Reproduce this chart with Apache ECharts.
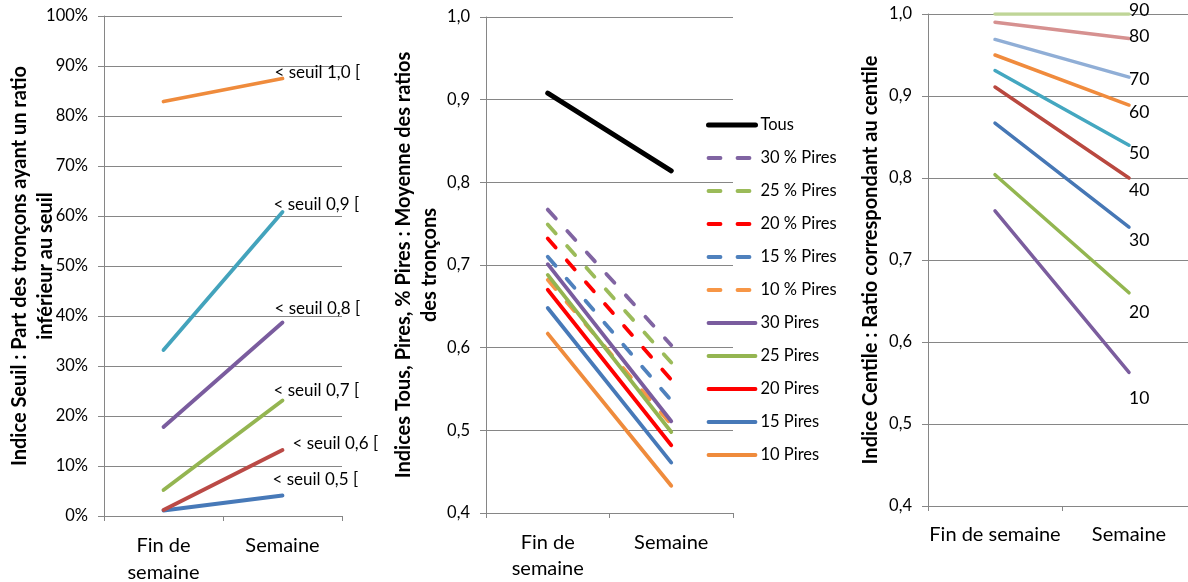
<!DOCTYPE html>
<html><head><meta charset="utf-8">
<script src="https://cdn.jsdelivr.net/npm/echarts@6/dist/echarts.min.js"></script>
<style>html,body{margin:0;padding:0;background:#fff}#c{width:1188px;height:582px}</style>
</head><body><div id="c"></div>
<script>
// ---------- DATA ----------
const catsSeuil = ['Fin de\nsemaine', 'Semaine'];
const catsPires = ['Fin de\nsemaine', 'Semaine'];
const catsCentile = ['Fin de semaine', 'Semaine'];

// Indice Seuil (% of segments below threshold)
const seuilNames = ['< seuil 0,5 [', '< seuil 0,6 [', '< seuil 0,7 [', '< seuil 0,8 [', '< seuil 0,9 [', '< seuil 1,0 ['];
const seuil05 = [1.1, 4.1];
const seuil06 = [1.2, 13.2];
const seuil07 = [5.2, 23.1];
const seuil08 = [17.8, 38.7];
const seuil09 = [33.2, 60.8];
const seuil10 = [82.9, 87.5];
const seuilValues = [seuil05, seuil06, seuil07, seuil08, seuil09, seuil10];

// Indices Tous / % Pires / Pires
const piresNames = ['Tous', '30 % Pires', '25 % Pires', '20 % Pires', '15 % Pires', '10 % Pires',
                    '30 Pires', '25 Pires', '20 Pires', '15 Pires', '10 Pires'];
const tous = [0.908, 0.814];
const pct30 = [0.767, 0.603];
const pct25 = [0.749, 0.582];
const pct20 = [0.732, 0.561];
const pct15 = [0.710, 0.536];
const pct10 = [0.682, 0.507];
const pires30 = [0.701, 0.511];
const pires25 = [0.688, 0.498];
const pires20 = [0.670, 0.482];
const pires15 = [0.648, 0.461];
const pires10 = [0.617, 0.433];
const piresValues = [tous, pct30, pct25, pct20, pct15, pct10, pires30, pires25, pires20, pires15, pires10];

// Indice Centile
const centileNames = ['10', '20', '30', '40', '50', '60', '70', '80', '90'];
const c10 = [0.760, 0.563];
const c20 = [0.804, 0.660];
const c30 = [0.867, 0.740];
const c40 = [0.911, 0.800];
const c50 = [0.931, 0.840];
const c60 = [0.950, 0.889];
const c70 = [0.969, 0.923];
const c80 = [0.990, 0.970];
const c90 = [1.000, 1.000];
const centileValues = [c10, c20, c30, c40, c50, c60, c70, c80, c90];

// tick settings
const seuilTicks = {min: 0, max: 100, interval: 10};
const ratioTicks = {min: 0.4, max: 1.0, interval: 0.1};

// ---------- STYLE ----------
const FONT = 'Lato';
const AX = '#868686';
const seuilColors = ['#4779B8', '#BA4A46', '#94B551', '#7A5C9E', '#43A3BC', '#EF8B3C'];
const seuilLabelOffsets = [[-10, -16], [10, -6], [-9, -10], [-8, -14], [-9, -7], [-8, -6]];
const piresColors = ['#000000', '#8064A2', '#9BBB59', '#FF0000', '#4F81BD', '#F79646',
                     '#7A5C9E', '#94B551', '#FF0000', '#4779B8', '#EF8B3C'];
const centileColors = ['#7B5D9E', '#93B650', '#4677B5', '#B9483F', '#44A7C0', '#F08B3D', '#90AED6', '#D69190', '#BFD597'];
const centileLabelOffsets = [[0, 26], [0, 20], [0, 13], [0, 12], [0, 8], [0, 7], [0, 2], [0, -2], [0, -4]];
const DASH = [12, 17];

const fmtRatio = v => v.toFixed(1).replace('.', ',');
const isDashed = i => i >= 1 && i <= 5;
const piresWidth = i => (i === 0 ? 5 : 3.8);

function xAxisCfg(idx, cats, margin, lh) {
  return {
    type: 'category', gridIndex: idx, data: cats, boundaryGap: true,
    axisLine: {show: true, lineStyle: {color: AX, width: 1}},
    axisTick: {show: true, length: 5, lineStyle: {color: AX}},
    axisLabel: {interval: 0, color: '#000', fontFamily: FONT, fontSize: 20, lineHeight: lh, margin: margin},
    splitLine: {show: false}
  };
}
function yAxisCfg(idx, ticks, fmt, name, gap) {
  return {
    type: 'value', gridIndex: idx, min: ticks.min, max: ticks.max, interval: ticks.interval,
    axisLine: {show: true, lineStyle: {color: AX, width: 1}},
    axisTick: {show: true, length: 6, lineStyle: {color: AX}},
    axisLabel: {color: '#000', fontFamily: FONT, fontSize: 16.5, margin: 16, formatter: fmt},
    splitLine: {show: true, lineStyle: {color: AX, width: 1}},
    name: name, nameLocation: 'middle', nameRotate: 90, nameGap: gap, nameMoveOverlap: false,
    nameTextStyle: {color: '#000', fontFamily: FONT, fontWeight: 'bold', fontSize: 20, lineHeight: 26}
  };
}

const series = [];
seuilNames.forEach((n, i) => {
  series.push({
    type: 'line', name: n, xAxisIndex: 0, yAxisIndex: 0, data: seuilValues[i],
    symbol: 'none', silent: true,
    lineStyle: {color: seuilColors[i], width: 3.8, cap: 'round'},
    itemStyle: {color: seuilColors[i]},
    endLabel: {show: true, formatter: '{a}', color: '#000', fontFamily: FONT, fontSize: 17,
               distance: 0, offset: seuilLabelOffsets[i]}
  });
});
piresNames.forEach((n, i) => {
  series.push({
    type: 'line', name: n, xAxisIndex: 1, yAxisIndex: 1, data: piresValues[i],
    symbol: 'none', silent: true,
    lineStyle: {color: piresColors[i], width: piresWidth(i), cap: 'round',
                type: isDashed(i) ? DASH : 'solid'},
    itemStyle: {color: piresColors[i]}
  });
});
centileNames.forEach((n, i) => {
  series.push({
    type: 'line', name: n, xAxisIndex: 2, yAxisIndex: 2, data: centileValues[i],
    symbol: 'none', silent: true,
    lineStyle: {color: centileColors[i], width: 3.5, cap: 'round'},
    itemStyle: {color: centileColors[i]},
    endLabel: {show: true, formatter: '{a}', color: '#000', fontFamily: FONT, fontSize: 17.5,
               distance: 0, offset: centileLabelOffsets[i]}
  });
});

const legendData = piresNames.map((n, i) => ({
  name: n,
  itemStyle: {opacity: 0, borderWidth: 0},
  lineStyle: {color: piresColors[i], width: piresWidth(i), cap: 'round',
              type: isDashed(i) ? DASH : 'solid', opacity: 1}
}));

const option = {
  animation: false,
  backgroundColor: '#fff',
  grid: [
    {left: 104, top: 16, width: 238, height: 500, outerBoundsMode: 'none', containLabel: false},
    {left: 486, top: 17, width: 247, height: 496, outerBoundsMode: 'none', containLabel: false},
    {left: 928, top: 14, width: 268, height: 492, outerBoundsMode: 'none', containLabel: false}
  ],
  xAxis: [
    xAxisCfg(0, catsSeuil, 16, 27),
    xAxisCfg(1, catsPires, 17, 26),
    xAxisCfg(2, catsCentile, 19, 20)
  ],
  yAxis: [
    yAxisCfg(0, seuilTicks, v => v + '%', 'Indice Seuil : Part des tronçons ayant un ratio\ninférieur au seuil', 45),
    yAxisCfg(1, ratioTicks, fmtRatio, 'Indices Tous, Pires, % Pires : Moyenne des ratios\ndes tronçons', 43),
    yAxisCfg(2, ratioTicks, fmtRatio, 'Indice Centile : Ratio correspondant au centile', 44)
  ],
  legend: {
    orient: 'vertical', left: 706, top: 116, padding: 0,
    itemWidth: 47, itemHeight: 18, itemGap: 15,
    itemStyle: {opacity: 0, borderWidth: 0},
    textStyle: {color: '#000', fontFamily: FONT, fontSize: 16.5, lineHeight: 18},
    selectedMode: false,
    data: legendData
  },
  series: series
};

const chart = echarts.init(document.getElementById('c'), null, {renderer: 'canvas'});
chart.setOption(option);
</script>
</body></html>
